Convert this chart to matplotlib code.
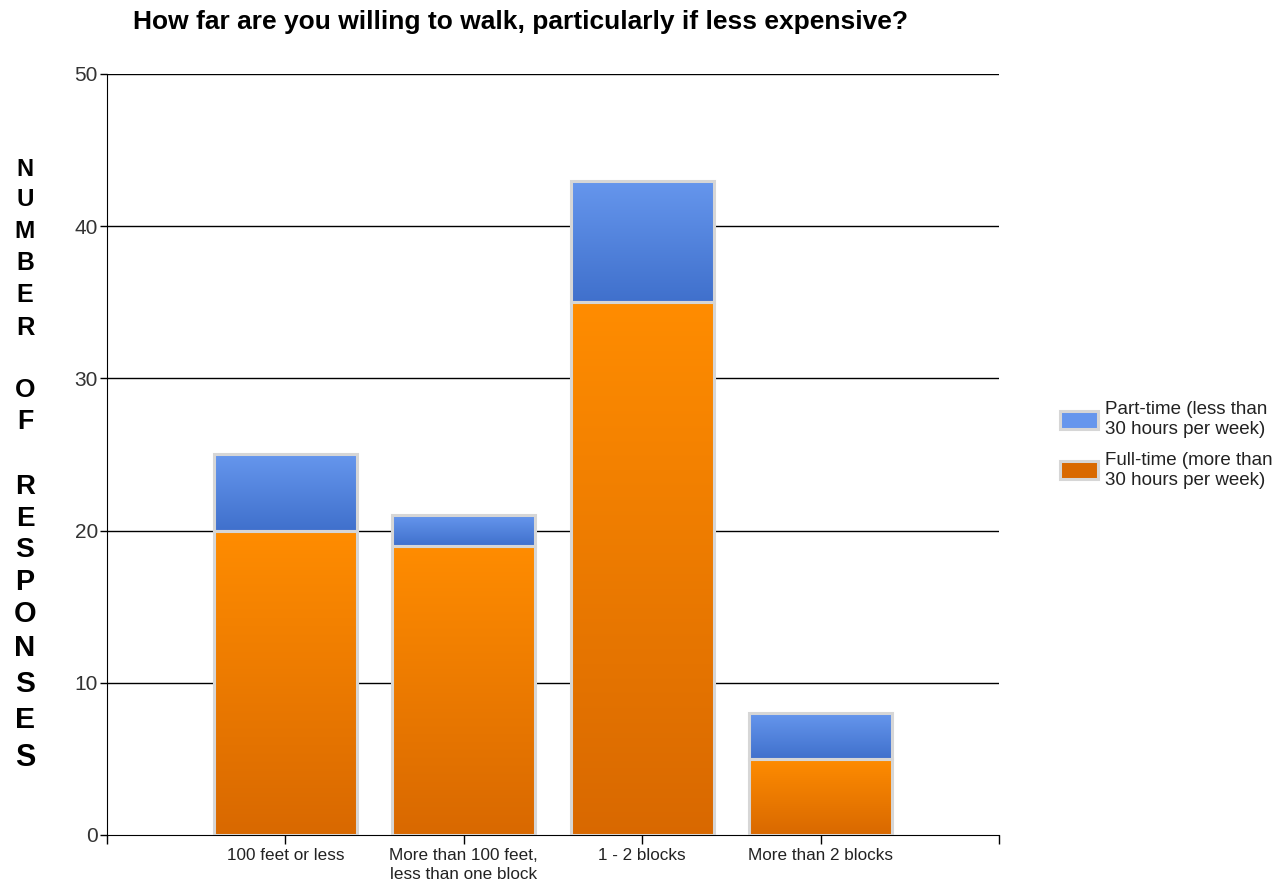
import numpy as np
import matplotlib.pyplot as plt
from matplotlib.patches import Patch

# data
categories = ['100 feet or less', 'More than 100 feet,\nless than one block', '1 - 2 blocks', 'More than 2 blocks']
full_time = [20, 19, 35, 5]
part_time = [5, 2, 8, 3]
labels = ['Part-time (less than\n30 hours per week)', 'Full-time (more than\n30 hours per week)']
y_ticks = [0, 10, 20, 30, 40, 50]

ORANGE = ((1.0, 0.55, 0.0), (0.85, 0.41, 0.0))
BLUE = ((0.40, 0.59, 0.93), (0.25, 0.44, 0.80))
EDGE = '#d6d6d6'

plt.rcParams['font.family'] = ['Liberation Sans', 'DejaVu Sans']

fig = plt.figure(figsize=(12.83, 8.82), dpi=100)
ax = fig.add_axes([0.0834, 0.0533, 0.6953, 0.8628])


def gradient_bars(x, heights, bottoms, cols):
    top, bot = np.array(cols[0]), np.array(cols[1])
    t = np.linspace(0, 1, 256)[:, None]
    img = (top * (1 - t) + bot * t)[:, None, :]
    bars = ax.bar(x, heights, 0.8, bottom=bottoms, facecolor='none', edgecolor=EDGE,
                  linewidth=2.2, zorder=4)
    for b in bars:
        x0, y0 = b.get_x(), b.get_y()
        im = ax.imshow(img, extent=(x0, x0 + b.get_width(), y0, y0 + b.get_height()),
                       origin='upper', aspect='auto', zorder=3, interpolation='bilinear')
        im.set_clip_path(b)
    return bars


x = np.arange(1, len(categories) + 1)
gradient_bars(x, full_time, [0] * len(x), ORANGE)
gradient_bars(x, part_time, full_time, BLUE)

ax.set_xlim(0, 5)
ax.set_ylim(0, 50)
ax.set_xticks(range(0, 6))
ax.set_xticklabels([''] + categories + [''], fontsize=12.3, color='#222222', linespacing=1.3)
ax.set_yticks(y_ticks)
ax.set_yticklabels([str(v) for v in y_ticks], fontsize=15, color='#333333')
ax.tick_params(axis='y', length=5, width=1, pad=1.5)
ax.tick_params(axis='x', length=6.5, width=1, pad=3)
for v in y_ticks[1:]:
    ax.axhline(v, color='black', lw=1, zorder=1)
ax.spines['top'].set_visible(False)
ax.spines['right'].set_visible(False)

fig.text(0.406, 0.975, 'How far are you willing to walk, particularly if less expensive?',
         ha='center', va='center', fontsize=19, fontweight='bold')

# stacked vertical axis label, one letter per line
chars = list('NUMBER') + [None] + list('OF') + [None] + list('RESPONSES')
ys = [170, 200, 232, 263, 295, 328, None, 390, 422, None, 487, 519, 550, 582, 614, 648, 684, 720, 758]
sizes = np.linspace(17, 22, len(chars))
for c, yy, s in zip(chars, ys, sizes):
    if c is None:
        continue
    fig.text(25 / 1283, 1 - yy / 882, c, ha='center', va='center', fontsize=s, fontweight='bold')

handles = [Patch(facecolor=BLUE[0], edgecolor=EDGE, linewidth=2.2),
           Patch(facecolor=ORANGE[1], edgecolor=EDGE, linewidth=2.2)]
fig.legend(handles, labels, loc='center left', bbox_to_anchor=(0.8133, 0.4955), frameon=False,
           fontsize=13.5, handlelength=2.0, handleheight=1.1, labelspacing=0.75, handletextpad=0.4,
           labelcolor='#222222')

fig.savefig('out.png', dpi=100)
